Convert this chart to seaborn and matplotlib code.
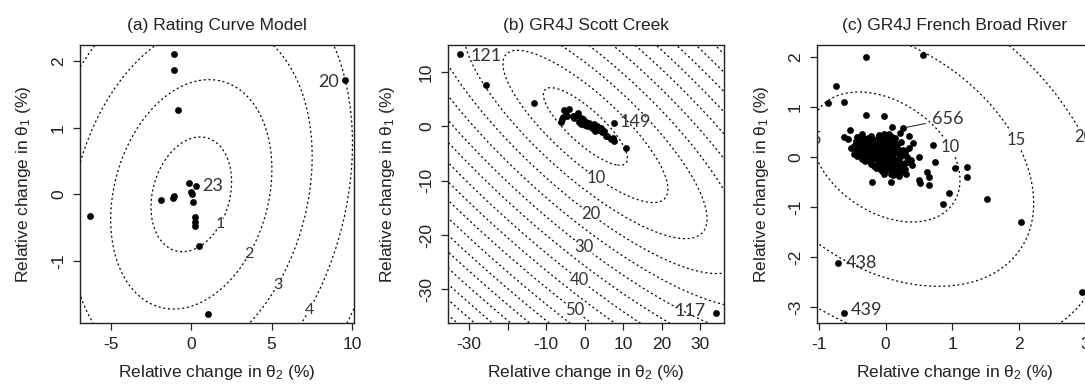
import numpy as np
import matplotlib
matplotlib.use("Agg")
import matplotlib.pyplot as plt
import seaborn as sns

sns.set_style("ticks")
plt.rcParams["font.family"] = ["Liberation Sans", "DejaVu Sans"]
plt.rcParams["mathtext.fontset"] = "custom"
plt.rcParams["mathtext.rm"] = "Liberation Sans"
plt.rcParams["mathtext.it"] = "Liberation Sans"
plt.rcParams["mathtext.default"] = "regular"
plt.rcParams["axes.unicode_minus"] = False

# ---------------- (a) Rating curve model ----------------
a_dth2 = [-6.3, 1.05, 9.55, -1.1, -1.05, -0.8, -1.9, -1.15, -1.05, -0.12, 0.3,
          0.0, 0.02, 0.1, 0.2, 0.2, 0.22, 0.5]
a_dth1 = [-0.33, -1.8, 1.71, 2.1, 1.87, 1.27, -0.08, -0.05, -0.02, 0.17, 0.13,
          0.03, 0.0, -0.12, -0.34, -0.42, -0.47, -0.77]
a_ids = ["23", "20"]
a_id_pos = [(1.3, 0.12), (8.55, 1.69)]
a_quad = [0.167, -0.107, 1.42]          # influence surface coefficients
a_levels = [1, 2, 3, 4, 5]
a_labels = [1, 2, 3, 4]
a_label_pos = [(1.74, -0.44), (3.5, -0.88), (5.4, -1.36), (7.2, -1.71)]

# ---------------- (b) GR4J Scott Creek ----------------
b_dth2 = [-32.5, -25.5, -13.2, 34.0, 7.6, 10.8,
          -6.2, -5.7, -5.4, -4.9, -4.1, -3.1, -2.8, -2.1, -1.8, -1.5, -1.0, -1.0,
          -0.3, -0.2, 0.3, 0.7, 1.1, 1.5, 2.0, 2.4, 2.8, 3.3, 3.7, 4.2, 4.6, 5.0,
          5.5, 5.9, 6.8, 7.3, 7.6, -6.0, -4.5, 0.0, 1.8, 2.6]
b_dth1 = [13.3, 7.7, 4.4, -34.3, 0.7, -3.9,
          0.9, 1.8, 3.1, 2.9, 3.3, 2.0, 1.6, 2.2, 2.4, 0.9, 1.6, 0.4,
          1.3, 0.7, 0.9, 0.0, 0.7, 0.2, -0.2, 0.4, -0.9, 0.0, -0.6, -0.3, -1.1, -0.9,
          -1.8, -1.8, -2.4, -2.2, -2.7, 1.4, 2.0, 0.3, 0.0, -0.5]
b_ids = ["121", "149", "117"]
b_id_pos = [(-25.7, 12.9), (13.2, 0.9), (27.3, -33.9)]
b_axes = [12.8, 3.6, -31.0]              # semi-axes at level 5 and tilt (deg)
b_levels = list(range(5, 105, 5))
b_labels = [10, 20, 30, 40, 50]
b_label_pos = [(3.3, -9.15), (2.0, -15.6), (0.26, -21.7), (-1.5, -28.5), (-3.2, -34.3)]

# ---------------- (c) GR4J French Broad River ----------------
c_blob = [(-0.45, 0.33), (-0.38, 0.40), (-0.30, 0.36), (-0.22, 0.42), (-0.12, 0.38),
          (-0.02, 0.40), (0.06, 0.46), (-0.36, 0.47), (-0.48, 0.22), (-0.41, 0.26),
          (-0.33, 0.29), (-0.26, 0.24), (-0.18, 0.31), (-0.09, 0.27), (0.01, 0.30),
          (0.10, 0.33), (0.18, 0.26), (-0.44, 0.14), (-0.37, 0.18), (-0.29, 0.13),
          (-0.21, 0.19), (-0.14, 0.15), (-0.06, 0.20), (0.03, 0.17), (0.12, 0.21),
          (0.21, 0.15), (0.30, 0.10), (-0.47, 0.07), (-0.39, 0.06), (-0.31, 0.09),
          (-0.24, 0.04), (-0.16, 0.08), (-0.08, 0.03), (0.00, 0.09), (0.08, 0.05),
          (0.16, 0.10), (0.24, 0.03), (0.33, 0.01), (-0.35, -0.03), (-0.27, -0.05),
          (-0.19, -0.01), (-0.11, -0.06), (-0.03, -0.02), (0.05, -0.07), (0.13, -0.03),
          (0.21, -0.08), (0.29, -0.12), (0.38, -0.05), (-0.22, -0.13), (-0.14, -0.16),
          (-0.06, -0.11), (0.02, -0.15), (0.10, -0.18), (0.18, -0.14), (0.26, -0.21),
          (-0.09, -0.24), (-0.01, -0.27), (0.07, -0.23), (0.15, -0.29), (0.23, -0.30),
          (0.31, -0.33), (-0.03, -0.33), (0.12, -0.36), (-0.40, 0.32), (-0.25, 0.33),
          (-0.15, 0.23), (-0.05, 0.12), (0.05, 0.25), (-0.20, 0.10), (-0.10, -0.02),
          (0.07, 0.00), (-0.52, 0.18), (-0.43, 0.40), (0.15, 0.38), (0.24, 0.30),
          (0.36, 0.18), (0.40, -0.15), (0.20, -0.38), (-0.15, -0.22),
          (-0.42, 0.36), (-0.34, 0.38), (-0.26, 0.39), (-0.17, 0.35), (-0.07, 0.33),
          (0.03, 0.36), (-0.44, 0.28), (-0.37, 0.23), (-0.29, 0.20), (-0.22, 0.27),
          (-0.13, 0.29), (-0.04, 0.24), (0.06, 0.21), (0.14, 0.27), (-0.45, 0.19),
          (-0.40, 0.11), (-0.33, 0.14), (-0.25, 0.10), (-0.17, 0.12), (-0.09, 0.17),
          (0.00, 0.13), (0.09, 0.13), (0.18, 0.18), (0.27, 0.14), (-0.43, 0.02),
          (-0.34, 0.04), (-0.28, 0.00), (-0.20, 0.05), (-0.12, 0.07), (-0.04, 0.06),
          (0.04, 0.02), (0.12, 0.06), (0.20, 0.07), (0.28, 0.05), (-0.31, -0.08),
          (-0.23, -0.07), (-0.15, -0.04), (-0.07, -0.07), (0.01, -0.04), (0.09, -0.10),
          (0.17, -0.06), (0.25, -0.13), (0.34, -0.09), (-0.18, -0.18), (-0.10, -0.16),
          (-0.02, -0.19), (0.06, -0.13), (0.14, -0.21), (0.22, -0.17), (0.30, -0.24),
          (-0.05, -0.28), (0.03, -0.22), (0.11, -0.27), (0.19, -0.25), (0.27, -0.28),
          (0.08, -0.33), (0.17, -0.34), (-0.10, 0.44), (-0.02, 0.47), (0.10, 0.40)]
c_outer = [(-0.30, 2.00), (0.56, 2.04), (-0.74, 1.42), (-0.86, 1.08), (-0.63, 1.10),
           (-0.29, 0.84), (-0.03, 0.82), (-0.53, 0.54), (-0.63, 0.40), (-0.57, 0.36),
           (0.10, 0.60), (0.27, 0.58), (0.72, 0.24), (0.75, -0.10), (1.05, -0.22),
           (1.22, -0.20), (1.23, -0.40), (0.50, -0.46), (0.65, -0.40), (0.09, -0.50),
           (0.52, -0.52), (0.66, -0.55), (0.95, -0.72), (0.87, -0.94), (1.52, -0.84),
           (2.04, -1.30), (-0.72, -2.12), (-0.62, -3.12), (2.96, -2.70), (0.42, 0.28),
           (0.50, 0.00), (0.63, -0.30), (-0.20, -0.50), (0.22, 0.48), (0.35, 0.42)]
c_dth2 = [p[0] for p in c_blob + c_outer]
c_dth1 = [p[1] for p in c_blob + c_outer]
c_ids = ["438", "439"]
c_id_pos = [(-0.36, -2.12), (-0.29, -3.06)]
c_lead = ("656", (0.27, 0.58), (0.93, 0.76))
c_quad = [0.915, 0.282, 0.679]
c_levels = [5, 10, 15, 20, 25]
c_labels = [10, 15, 20]
c_label_pos = [(0.98, 0.2), (1.92, 0.3), (2.9, 0.34)]

W, H = 1085, 385
fig = plt.figure(figsize=(W / 100, H / 100), dpi=100)
fig.patch.set_facecolor("white")


def make_axes(left_px, width_px):
    return fig.add_axes([left_px / W, (H - 323) / H, width_px / W, 278 / H])


axA = make_axes(80, 274)
axB = make_axes(448, 276)
axC = make_axes(817, 276)

FS = 12.5
DOT = dict(color="black", s=24, linewidth=0, zorder=3, legend=False)
CLINE = dict(colors="black", linewidths=0.9, linestyles=[(0, (1.6, 2.2))])
LABFAMILY = ["Lato", "DejaVu Sans"]
LABCOLOR = "#333333"


def style_axes(ax, title, ylab_off):
    ax.set_title(title, fontsize=FS, pad=11, color="#222222")
    ax.set_xlabel(r"Relative change in $\theta_2$ (%)", fontsize=FS, color="#222222")
    ax.set_ylabel(r"Relative change in $\theta_1$ (%)", fontsize=FS, color="#222222")
    ax.xaxis.set_label_coords(0.5, -0.145)
    ax.yaxis.set_label_coords(-ylab_off, 0.5)
    ax.tick_params(axis="both", direction="out", length=5, width=0.9,
                   labelsize=FS, colors="#222222", pad=5)
    ax.tick_params(axis="y", labelrotation=90)
    for t in ax.get_yticklabels():
        t.set_va("center")
    for sp in ax.spines.values():
        sp.set_visible(True)
        sp.set_linewidth(1.0)
        sp.set_color("#222222")


def draw_contours(ax, X, Y, Z, levels, labelled, positions, size):
    # unlabelled levels and labelled levels are drawn as two contour sets
    rest = [lv for lv in levels if lv not in labelled]
    if rest:
        ax.contour(X, Y, Z, levels=rest, **CLINE)
    cs = ax.contour(X, Y, Z, levels=labelled, **CLINE)
    texts = ax.clabel(cs, manual=positions, inline=True, inline_spacing=2,
                      fmt="%d", fontsize=size)
    for t in texts:
        t.set_rotation(0)
        t.set_family(LABFAMILY)
        t.set_color(LABCOLOR)


def id_text(ax, s, x, y):
    ax.text(x, y, s, ha="center", va="center", fontsize=13,
            family=LABFAMILY, color=LABCOLOR)


# ---- (a)
axA.set_xlim(-6.93, 10.13)
axA.set_ylim(-1.93, 2.24)
xa = np.linspace(-7.5, 11, 400)
ya = np.linspace(-2.5, 3, 400)
XA, YA = np.meshgrid(xa, ya)
ZA = np.sqrt(a_quad[0] * XA**2 + 2 * a_quad[1] * XA * YA + a_quad[2] * YA**2)
draw_contours(axA, XA, YA, ZA, a_levels, a_labels, a_label_pos, 11.5)
sns.scatterplot(x=a_dth2, y=a_dth1, ax=axA, **DOT)
for s, (x, y) in zip(a_ids, a_id_pos):
    id_text(axA, s, x, y)
axA.set_xlim(-6.93, 10.13)
axA.set_ylim(-1.93, 2.24)
axA.set_xticks([-5, 0, 5, 10])
axA.set_yticks([-1, 0, 1, 2])
style_axes(axA, "(a) Rating Curve Model", 0.17)

# ---- (b)
axB.set_xlim(-35.5, 36.2)
axB.set_ylim(-36.2, 15.0)
xb = np.linspace(-40, 40, 500)
yb = np.linspace(-40, 20, 500)
XB, YB = np.meshgrid(xb, yb)
phi = np.deg2rad(b_axes[2])
U = np.cos(phi) * (XB - 0.2) + np.sin(phi) * YB
V = -np.sin(phi) * (XB - 0.2) + np.cos(phi) * YB
MB = 5 * np.sqrt((U / b_axes[0])**2 + (V / b_axes[1])**2)
ZB = MB + 0.004 * MB**2
draw_contours(axB, XB, YB, ZB, b_levels, b_labels, b_label_pos, 12)
sns.scatterplot(x=b_dth2, y=b_dth1, ax=axB, **DOT)
for s, (x, y) in zip(b_ids, b_id_pos):
    id_text(axB, s, x, y)
axB.set_xlim(-35.5, 36.2)
axB.set_ylim(-36.2, 15.0)
axB.set_xticks([-30, -20, -10, 0, 10, 20, 30])
axB.set_xticklabels(["-30", "", "-10", "0", "10", "20", "30"])
axB.set_yticks([-30, -20, -10, 0, 10])
style_axes(axB, "(b) GR4J Scott Creek", 0.185)

# ---- (c)
axC.set_xlim(-1.03, 3.12)
axC.set_ylim(-3.32, 2.24)
xc = np.linspace(-1.5, 3.6, 400)
yc = np.linspace(-3.8, 2.8, 400)
XC, YC = np.meshgrid(xc, yc)
ZC = 4.95 + 5.05 * np.sqrt(c_quad[0] * XC**2 + 2 * c_quad[1] * XC * YC + c_quad[2] * YC**2)
draw_contours(axC, XC, YC, ZC, c_levels, c_labels, c_label_pos, 12)
axC.text(-1.05, 0.36, "5", ha="center", va="center", fontsize=12, clip_on=True,
         family=LABFAMILY, color=LABCOLOR)
sns.scatterplot(x=c_dth2, y=c_dth1, ax=axC, **DOT)
for s, (x, y) in zip(c_ids, c_id_pos):
    id_text(axC, s, x, y)
axC.annotate(c_lead[0], xy=c_lead[1], xytext=c_lead[2], ha="center", va="center",
             fontsize=13, family=LABFAMILY, color=LABCOLOR,
             arrowprops=dict(arrowstyle="-", lw=0.8, color=LABCOLOR, shrinkA=2, shrinkB=2))
axC.set_xlim(-1.03, 3.12)
axC.set_ylim(-3.32, 2.24)
axC.set_xticks([-1, 0, 1, 2, 3])
axC.set_yticks([-3, -2, -1, 0, 1, 2])
style_axes(axC, "(c) GR4J French Broad River", 0.165)

fig.savefig("out.png", dpi=100, facecolor="white")
